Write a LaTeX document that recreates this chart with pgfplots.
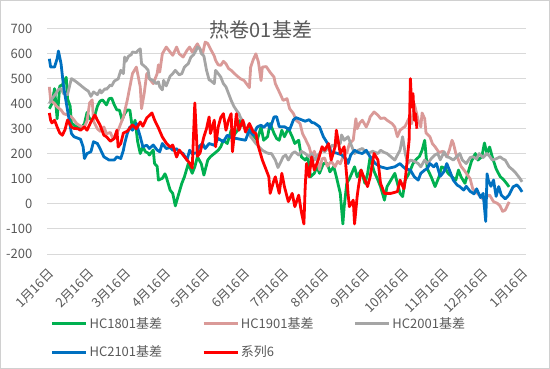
\documentclass[border=0pt]{standalone}
\usepackage{pgfplots}
\pgfplotsset{compat=1.18}
\usepackage{fontspec}
\setmainfont{Noto Sans CJK SC}
\definecolor{cgreen}{HTML}{00B050}
\definecolor{cpink}{HTML}{DA9A98}
\definecolor{cgray}{HTML}{A5A5A5}
\definecolor{cblue}{HTML}{0070C0}
\definecolor{cred}{HTML}{FF0000}
\definecolor{ctext}{HTML}{595959}
\definecolor{cgrid}{HTML}{D9D9D9}
\definecolor{cborder}{HTML}{D0D0D0}
\pgfplotsset{legend image code/.code={\draw[#1] (0pt,0pt) -- (34pt,0pt);}}
\begin{document}
\begin{tikzpicture}[x=1pt,y=1pt]
\useasboundingbox (-47.4,-115) rectangle (502.6,254);
\draw[color=cborder, line width=0.9pt] (-46.9,-114.5) rectangle (502.1,253.5);
\begin{axis}[
  at={(0pt,0pt)}, anchor=south west,
  scale only axis, width=478.6pt, height=225.5pt,
  xmin=-3.5, xmax=365, ymin=-200, ymax=700,
  ytick={-200,-100,0,100,200,300,400,500,600,700},
  xtick={0,31,59,90,120,151,181,212,243,273,304,334,365},
  xticklabels={1月16日,2月16日,3月16日,4月16日,5月16日,6月16日,7月16日,8月16日,9月16日,10月16日,11月16日,12月16日,1月16日},
  ymajorgrids, grid style={color=cgrid, line width=0.9pt},
  axis line style={draw=none},
  major tick length=0pt,
  tick label style={font=\fontsize{13}{15}\selectfont, text=ctext},
  /pgf/number format/assume math mode=true,
  xticklabel style={xshift=2pt, yshift=-15pt, rotate=45, anchor=east},
  yticklabel style={xshift=-11.5pt},
  legend style={draw=none, fill=none, inner sep=0pt, outer sep=0pt,
    font=\fontsize{13}{15}\selectfont, text=ctext,
    at={(axis description cs:0.007,-0.2727)}, anchor=north west,
    /tikz/every even column/.append style={column sep=38pt},
    row sep=12pt, nodes={inner sep=2pt}},
  legend columns=3, legend cell align=left,
  every axis plot/.append style={line width=2.8pt, line join=round, mark=none},
]
\addplot[color=cgreen] table {
-2 380
0 400
2 460
4 340
6 470
8 475
11 505
12 420
14 390
15 323
18 310
22 300
25 320
27 365
29 340
32 335
35 390
37 410
39 415
42 395
44 420
46 422
48 395
50 375
52 374
54 335
56 360
58 375
60 374
62 300
64 334
66 248
68 201
70 227
72 208
74 203
75 195
78 215
79 161
81 150
82 95
85 102
87 120
88 108
91 55
93 42
95 -8
97 29
100 82
102 108
105 161
108 122
110 148
112 188
115 160
117 115
120 175
122 188
125 201
128 214
130 228
132 254
135 241
138 294
140 274
143 294
145 334
148 307
151 281
153 307
155 274
158 254
161 307
163 254
166 268
168 321
171 281
173 261
175 254
177 294
179 268
182 301
185 268
187 241
190 254
192 188
195 175
197 188
199 108
202 122
204 148
206 122
209 161
212 161
214 128
217 148
219 108
222 42
224 -80
225 -11
227 82
229 100
233 148
235 108
238 135
241 82
243 120
245 188
248 130
251 95
253 69
256 15
258 69
261 95
264 122
268 42
270 29
272 95
275 122
278 161
280 175
283 190
285 214
287 254
289 140
292 108
295 69
298 108
300 148
303 140
305 122
308 108
311 95
313 135
315 108
318 82
321 135
323 170
326 201
328 175
331 188
333 243
335 201
337 227
339 188
342 140
345 110
348 95
350 82
352 68
};
\addlegendentry{HC1801基差}
\addplot[color=cpink] table {
-2 467
-1 414
2 400
4 387
7 375
9 360
12 355
15 347
17 335
19 321
22 310
25 307
27 330
29 403
31 415
32 330
35 300
37 290
40 307
42 280
45 285
47 260
50 281
52 307
55 347
58 414
60 467
62 520
65 546
66 520
68 467
69 380
71 440
73 520
75 500
78 480
81 520
82 555
83 526
85 599
88 626
91 606
93 593
96 626
98 599
101 586
104 613
106 626
108 606
112 639
114 619
116 600
118 646
120 640
122 619
125 590
126 573
128 555
130 553
132 569
134 559
136 540
138 533
142 513
145 500
148 492
152 464
153 546
155 576
157 599
159 566
161 492
162 546
165 548
168 525
171 506
172 480
175 447
176 436
178 413
181 420
183 380
186 360
188 334
191 321
193 280
195 260
198 228
200 190
202 210
205 160
206 136
208 180
210 183
212 150
215 170
218 148
220 170
222 160
225 200
227 203
229 240
232 255
234 340
235 300
237 323
239 334
242 307
244 330
245 347
248 367
251 354
253 341
256 343
258 334
262 320
264 307
266 268
268 294
272 310
275 343
277 320
279 400
282 334
284 307
285 363
287 340
288 283
291 268
293 240
295 228
298 205
301 210
304 188
306 215
308 254
309 243
311 201
313 175
315 150
318 130
322 100
324 60
327 45
330 30
332 18
335 30
337 35
340 9
343 2
345 -8
347 -30
349 -25
350 -14
352 8
};
\addlegendentry{HC1901基差}
\addplot[color=cgray] table {
-2 401
0 420
3 440
5 457
7 460
9 440
12 436
14 480
15 500
18 490
21 478
24 465
26 457
28 450
30 429
32 447
35 436
37 455
38 443
41 460
42 457
45 475
46 471
48 490
51 499
53 533
55 520
56 586
57 569
59 590
61 595
62 606
65 604
66 611
68 619
69 559
72 546
74 534
75 500
78 492
80 480
82 487
83 467
85 455
86 493
88 471
91 510
93 520
95 533
98 515
100 520
102 546
105 560
107 586
109 595
111 613
112 626
114 618
115 600
117 590
119 534
121 495
122 493
125 480
126 533
128 520
130 506
132 480
134 467
136 440
138 413
140 390
142 374
144 360
145 347
148 320
149 294
152 280
153 268
155 255
157 241
160 225
162 214
165 205
167 201
169 201
172 175
174 145
176 165
178 188
180 195
182 175
185 201
187 208
190 195
192 210
195 201
198 188
200 200
202 175
205 195
206 201
208 215
210 208
212 220
214 221
216 235
218 228
219 250
222 241
223 275
225 254
228 268
230 241
233 201
236 215
239 221
243 201
247 210
251 201
253 214
256 205
258 201
261 188
264 175
266 195
268 214
270 268
272 201
274 161
276 175
279 170
282 161
284 148
287 175
289 161
292 180
295 196
297 201
299 176
302 208
304 188
306 185
309 175
312 190
314 201
316 175
319 161
322 185
324 188
327 180
329 201
332 185
335 201
337 190
339 175
342 180
345 188
347 180
349 175
352 148
355 135
357 124
360 104
362 88
};
\addlegendentry{HC2001基差}
\addplot[color=cblue] table {
-2 579
-1 546
2 546
4 580
5 610
7 560
9 467
12 374
15 281
17 268
20 262
22 258
24 228
25 181
27 201
30 208
32 248
35 241
37 221
40 188
44 175
48 175
50 188
53 181
55 214
56 241
58 281
60 307
62 294
65 321
68 268
70 228
73 234
75 221
78 235
81 215
83 208
85 241
88 221
91 225
93 214
96 220
98 208
101 201
104 175
106 214
108 200
112 205
113 228
116 241
118 221
121 241
125 234
128 261
132 248
135 274
138 265
142 261
145 258
149 254
152 294
155 274
158 307
161 314
163 305
166 321
168 301
171 347
173 348
175 308
179 308
183 296
186 336
188 344
192 336
195 330
198 336
200 325
202 323
206 308
209 268
212 243
215 207
219 203
223 196
227 176
228 161
230 195
233 214
236 205
239 201
242 214
245 188
249 161
253 148
258 141
264 148
268 161
270 150
272 141
276 135
279 108
282 95
284 122
287 135
289 141
291 161
294 148
296 161
299 110
302 130
304 161
307 122
309 95
312 75
314 69
317 55
319 70
322 50
325 40
327 60
330 25
332 42
334 -70
335 120
336 95
338 70
340 95
342 30
344 69
346 35
349 20
352 36
355 68
358 76
360 64
362 48
};
\addlegendentry{HC2101基差}
\addplot[color=cred] table {
-2 363
-1 334
0 323
2 334
4 307
6 283
8 274
10 295
12 335
15 307
17 301
20 300
22 294
25 307
27 294
30 327
33 355
35 334
37 315
40 274
42 268
45 250
48 261
50 294
51 227
53 241
55 283
58 290
62 315
65 300
68 327
70 310
73 343
77 363
79 335
82 303
85 267
88 243
91 227
93 235
96 187
98 215
101 195
104 175
106 163
108 143
110 403
112 190
114 203
117 268
119 300
121 347
122 281
125 334
126 228
128 307
130 345
132 360
134 294
136 334
138 360
139 208
142 360
144 294
147 334
149 287
152 321
155 287
157 281
159 228
162 175
165 135
167 108
168 42
171 95
172 108
175 42
177 122
179 69
182 9
185 42
187 -11
190 35
192 -31
194 -80
195 69
196 161
198 108
200 188
202 135
205 175
208 228
210 214
213 241
215 175
218 228
219 294
222 201
225 228
227 108
228 40
229 -11
232 15
233 -80
235 30
236 69
238 135
241 95
243 69
245 108
248 201
251 175
253 82
256 42
261 42
266 49
268 95
271 60
272 95
275 254
276 500
277 387
278 440
279 334
280 360
281 300
};
\addlegendentry{系列6}
\end{axis}
\node[font=\fontsize{20}{24}\selectfont, text=ctext] at (213.6,224) {热卷01基差};
\end{tikzpicture}
\end{document}
